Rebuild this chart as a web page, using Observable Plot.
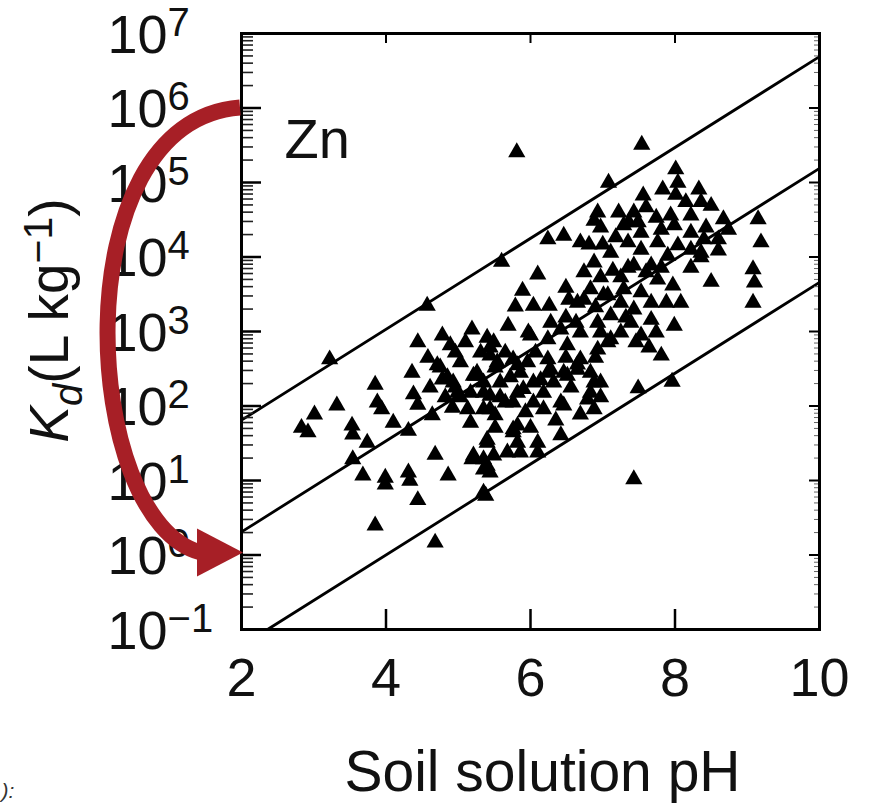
<!DOCTYPE html>
<html><head><meta charset="utf-8">
<script src="https://cdn.jsdelivr.net/npm/d3@7"></script>
<script src="https://cdn.jsdelivr.net/npm/@observablehq/plot@0.6"></script>
<style>html,body{margin:0;padding:0;background:#fff;}</style>
</head><body><div id="chart"></div>
<script>
// ---- data ----
const samplePH = [5.81,7.54,3.22,4.57,5.60,6.10,5.89,5.79,6.04,6.26,6.53,6.74,6.24,6.46,6.88,6.81,7.00,6.88,6.69,6.74,
7.14,7.35,7.43,7.67,7.08,7.22,7.36,6.93,7.29,7.49,7.43,7.56,7.83,8.01,8.04,8.01,8.33,8.36,8.50,7.94,
8.22,8.67,8.74,8.60,8.40,8.22,7.99,7.81,7.76,8.04,8.22,8.60,7.90,7.53,7.35,9.15,9.19,9.08,9.10,9.08,
8.50,7.97,7.76,7.29,7.01,7.11,7.43,6.93,7.53,7.67,7.99,7.64,7.81,7.46,7.49,7.96,7.43,6.83,7.07,6.65,
6.69,6.93,7.11,6.65,6.83,6.88,6.42,6.24,5.69,5.97,5.19,5.40,5.44,4.96,4.44,4.78,4.89,5.76,5.86,6.24,
6.24,6.51,6.69,6.51,6.83,5.26,5.35,5.17,4.99,5.44,5.82,5.96,6.04,5.82,6.04,6.18,6.42,6.32,5.58,5.54,
5.82,5.40,5.49,5.21,5.35,5.68,6.10,6.10,6.42,5.35,5.44,5.76,5.76,5.90,6.18,6.46,6.79,6.46,6.28,5.49,
6.00,7.07,4.36,4.71,4.78,4.93,5.21,3.85,3.88,3.94,4.38,4.44,3.32,3.01,2.83,2.92,3.53,3.54,3.74,4.10,
4.31,4.64,3.54,3.68,3.99,3.99,4.31,4.33,4.68,4.86,4.44,3.85,4.68,4.75,4.85,4.96,4.82,4.92,5.03,5.24,
5.35,5.13,5.35,5.40,5.35,5.19,5.44,5.38,5.51,5.44,5.76,5.82,5.86,5.40,6.88,6.65,7.25,6.49,6.28,8.22,
8.36,8.08,7.88,
5.65,6.07,6.49,6.90,5.72,6.14,6.56,6.97,5.65,5.93,6.35,6.69,6.97,5.51,6.00,6.49,6.90,7.32,7.67,6.63,
6.97,7.25,7.74,6.97,7.18,7.60,7.74,8.15,8.43,7.53,7.11,7.81,8.36,6.97,7.25,7.53,7.60,7.39,4.58,4.61,
5.03,5.10,5.31,5.51,5.17,5.58];
const sampleLogKd = [5.44,5.54,2.66,3.38,3.97,3.80,3.58,3.37,3.38,3.38,3.46,3.46,4.27,4.32,4.52,4.20,4.20,3.96,4.23,3.83,
3.85,3.89,3.92,3.92,5.03,4.63,4.50,4.63,4.46,4.50,4.63,4.86,4.94,5.21,5.03,4.87,4.94,4.77,4.72,4.59,
4.59,4.54,4.40,4.27,4.27,4.36,4.46,4.40,4.23,4.19,4.13,4.12,4.05,4.13,4.23,4.54,4.23,3.87,3.69,3.42,
3.70,3.65,3.73,3.60,3.52,3.25,3.33,3.15,2.98,3.19,3.11,2.82,2.71,2.89,2.27,2.36,1.05,3.60,3.52,3.42,
3.02,2.79,2.93,2.52,2.21,1.99,3.06,2.93,3.11,3.02,3.06,2.95,2.82,2.75,2.89,2.98,2.85,2.66,2.48,2.66,
2.48,2.85,2.66,2.44,2.48,2.48,2.35,2.21,2.21,2.17,2.58,2.62,2.35,2.21,2.08,1.99,2.08,2.35,2.35,2.62,
1.77,1.58,1.37,1.37,1.18,1.41,1.54,1.41,1.64,0.87,1.99,2.08,1.68,2.26,2.21,2.04,2.12,2.48,2.52,2.89,
2.98,2.89,2.48,2.58,2.39,2.35,2.44,2.32,2.08,1.99,2.19,2.05,2.04,1.92,1.74,1.68,1.77,1.65,1.54,1.81,
1.70,1.91,1.32,1.10,1.07,0.98,1.14,1.03,1.38,1.10,0.77,0.43,0.20,2.55,2.42,2.28,2.15,2.01,2.15,2.44,
2.21,1.99,1.99,1.54,1.32,1.32,1.14,0.83,1.91,2.71,1.72,1.54,1.41,1.23,2.35,2.59,3.42,3.22,3.15,3.89,
4.03,3.42,3.42,
2.75,2.75,2.68,2.68,2.42,2.38,2.28,2.35,2.08,1.95,1.84,1.92,2.15,1.74,1.74,3.62,3.36,3.22,3.42,3.15,
3.02,3.02,3.02,4.43,4.30,4.70,4.56,4.77,4.43,4.36,4.09,3.89,4.09,3.76,3.76,3.56,3.83,3.15,2.68,2.28,
2.62,2.89,2.75,2.55,1.81,2.15];

// three parallel reference lines: endpoints (pH, log10 Kd)
const upperLinePH = [2, 10],    upperLineLogKd = [1.81, 6.69];
const middleLinePH = [2, 10],   middleLineLogKd = [0.31, 5.19];
const lowerLinePH = [2.36, 10], lowerLineLogKd = [-1.0, 3.66];

const xTickValues = [2, 4, 6, 8, 10];
const xInnerTicks = [4, 6, 8];
const yTickValues = [1e-1, 1e0, 1e1, 1e2, 1e3, 1e4, 1e5, 1e6, 1e7];
const yTickLabels = ["10^−1","10^0","10^1","10^2","10^3","10^4","10^5","10^6","10^7"];
const minorMultipliers = [2,3,4,5,6,7,8,9];

const elementLabel = "Zn";
const xLabel = "Soil solution pH";
const yLabel = "Kd(L kg−1)";
const arrowFromKd = 1e6, arrowToKd = 1e0, arrowAtPH = 2;

// ---- tables built from arrays ----
const samples = samplePH.map((p, i) => ({pH: p, Kd: Math.pow(10, sampleLogKd[i])}));
const lineRows = [];
[["upper", upperLinePH, upperLineLogKd], ["middle", middleLinePH, middleLineLogKd], ["lower", lowerLinePH, lowerLineLogKd]]
  .forEach(([id, xs, ls]) => xs.forEach((x, i) => lineRows.push({id, pH: x, Kd: Math.pow(10, ls[i])})));
const minorY = [];
yTickValues.slice(0, -1).forEach(d => minorMultipliers.forEach(m => minorY.push(d * m)));

const W = 873, H = 805, mL = 241, mR = 54, mT = 33, mB = 176;
const PW = W - mL - mR, PH = H - mT - mB;
const FONT = "'Liberation Sans', Arial, Helvetica, sans-serif";

const plot = Plot.plot({
  width: W, height: H,
  marginLeft: mL, marginRight: mR, marginTop: mT, marginBottom: mB,
  style: {fontFamily: FONT, background: "#fff", color: "#000", overflow: "visible"},
  x: {domain: [2, 10], axis: null},
  y: {type: "log", domain: [0.1, 1e7], axis: null},
  marks: [
    Plot.line(lineRows, {x: "pH", y: "Kd", z: "id", stroke: "#000", strokeWidth: 2.8}),
    Plot.dot(samples, {x: "pH", y: "Kd", symbol: "triangle", r: 6.4, fill: "#000", stroke: "none", dy: 2.5}),
    // inward ticks
    Plot.tickY(yTickValues, {y: d => d, insetRight: PW - 20, stroke: "#000", strokeWidth: 2.5}),
    Plot.tickY(minorY, {y: d => d, insetRight: PW - 12, stroke: "#222", strokeWidth: 1.6}),
    Plot.tickY(yTickValues, {y: d => d, insetLeft: PW - 10, stroke: "#000", strokeWidth: 2}),
    Plot.tickY(minorY, {y: d => d, insetLeft: PW - 5, stroke: "#666", strokeWidth: 1}),
    Plot.tickX(xInnerTicks, {x: d => d, insetTop: PH - 20, stroke: "#000", strokeWidth: 2.5}),
    Plot.tickX(xInnerTicks, {x: d => d, insetBottom: PH - 10, stroke: "#000", strokeWidth: 2}),
    Plot.frame({stroke: "#000", strokeWidth: 3}),
    // tick labels
    Plot.text(xTickValues, {x: d => d, frameAnchor: "bottom", dy: 49, text: d => String(d), fontSize: 54, lineAnchor: "middle", fill: "#111"}),
    Plot.text(yTickValues, {y: d => d, frameAnchor: "left", dx: -134, dy: 2, textAnchor: "start", text: (d, i) => yTickLabels[i], fontSize: 54, lineAnchor: "middle", fill: "#111"}),
    // labels
    Plot.text([elementLabel], {frameAnchor: "top-left", dx: 43, dy: 107, textAnchor: "start", fontSize: 56, lineAnchor: "middle", fill: "#111"}),
    Plot.text([xLabel], {frameAnchor: "bottom", dx: 12, dy: 143, textAnchor: "middle", fontSize: 57, lineAnchor: "middle", fill: "#111"}),
    Plot.text([yLabel], {frameAnchor: "left", dx: -191, dy: -11, rotate: -90, textAnchor: "middle", fontSize: 55, lineAnchor: "middle", fill: "#111"}),
    Plot.text(["):"], {frameAnchor: "bottom-left", dx: -240, dy: 168, textAnchor: "start", fontSize: 21, fontStyle: "italic", fill: "#333"})
  ]
});

const svg = plot;
// superscripts / subscripts in text
d3.select(svg).selectAll("text").each(function() {
  const t = this.textContent;
  const m = /^10\^(.+)$/.exec(t);
  if (m) {
    const s = d3.select(this);
    s.text("10");
    s.append("tspan").attr("font-size", 40).attr("dy", -17).text(m[1]);
  } else if (t === yLabel) {
    const s = d3.select(this);
    s.text("");
    s.append("tspan").attr("font-style", "italic").text("K");
    s.append("tspan").attr("font-style", "italic").attr("font-size", 40).attr("dy", 14).text("d");
    s.append("tspan").attr("dy", -14).text("(L kg");
    s.append("tspan").attr("font-size", 41).attr("dy", -16).text("−1");
    s.append("tspan").attr("dy", 16).text(")");
  }
});

// red curved arrow annotation, anchored through the plot's scales
const sx = plot.scale("x"), sy = plot.scale("y");
const x0 = sx.apply(arrowAtPH), yA = sy.apply(arrowFromKd), yB = sy.apply(arrowToKd) - 2;
const RED = "#a71f26";
const g = d3.select(svg).append("g").attr("aria-label", "arrow");
g.append("path")
  .attr("d", `M${x0 - 1},${yA} C${x0 - 182},${yA + 14} ${x0 - 160},${yB - 30} ${x0 - 40},${yB}`)
  .attr("fill", "none").attr("stroke", RED).attr("stroke-width", 16);
g.append("path")
  .attr("d", `M${x0 + 2},${yB} L${x0 - 44},${yB - 24} L${x0 - 44},${yB + 24} Z`)
  .attr("fill", RED);

document.getElementById("chart").appendChild(svg);
</script>
</body></html>
